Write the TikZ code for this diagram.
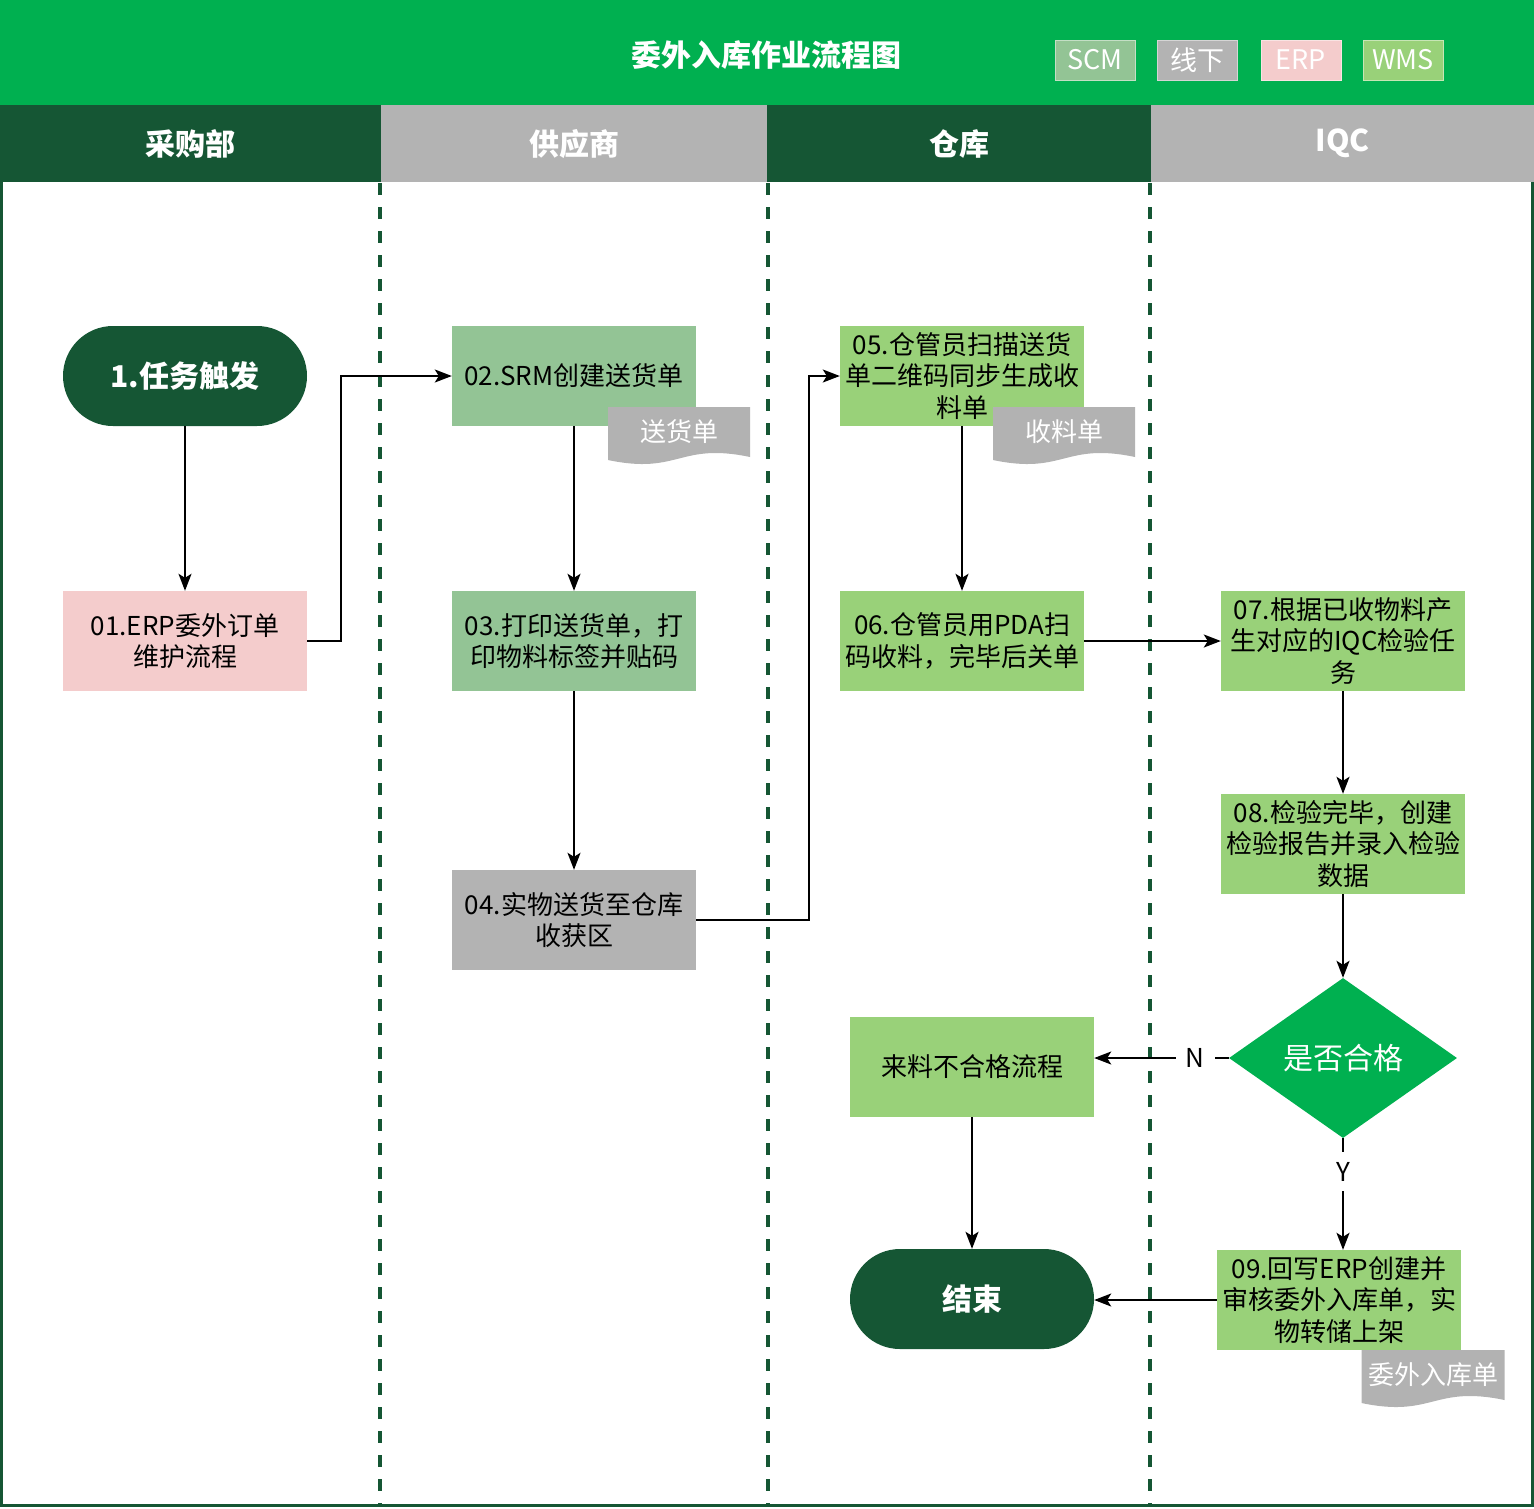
\documentclass[tikz,border=0pt]{standalone}
\usepackage{fontspec}
\setmainfont{Noto Sans CJK SC}
\usetikzlibrary{arrows.meta, positioning, shapes.geometric, calc}

\definecolor{bannergreen}{RGB}{0,176,80}
\definecolor{darkgreen}{RGB}{21,86,52}
\definecolor{lanegray}{RGB}{179,179,179}
\definecolor{scmgreen}{RGB}{147,196,149}
\definecolor{wmsgreen}{RGB}{153,209,121}
\definecolor{erppink}{RGB}{244,204,204}
\definecolor{docgray}{RGB}{178,178,178}

\begin{document}
\begin{tikzpicture}[
    x=1pt, y=-1pt,
    >={Stealth[length=17pt, width=13pt, inset=4pt]},
    box/.style={minimum width=244pt, minimum height=100pt, inner sep=0pt,
                align=center, font=\fontsize{26}{31.5}\selectfont},
    stadium/.style={box, fill=darkgreen, rounded corners=50pt, text=white,
                    font=\fontsize{30}{34}\selectfont\bfseries},
    lanehead/.style={minimum height=77pt, inner sep=0pt, anchor=north west,
                     text=white, font=\fontsize{30}{34}\selectfont\bfseries},
    legendbox/.style={minimum width=80pt, minimum height=40pt, inner sep=0pt,
                      text=white, font=\fontsize{27}{30}\selectfont},
    doctext/.style={text=white, font=\fontsize{26}{30}\selectfont},
    lab/.style={fill=white, inner sep=10pt, font=\fontsize{26}{30}\selectfont},
    flow/.style={->, line width=1.8pt},
    lanesep/.style={darkgreen, line width=3.5pt, dash pattern=on 12pt off 12pt}
  ]
  \useasboundingbox (0,0) rectangle (1534,1508);

  % Banner
  \fill[bannergreen] (0,0) rectangle (1534,105);
  \node[text=white, font=\fontsize{30}{34}\selectfont\bfseries] (title)
    at (766,55) {委外入库作业流程图};

  % Legend
  \foreach \x/\c/\t [count=\i] in {
    1095/scmgreen/SCM,
    1197/lanegray/线下,
    1301/erppink/ERP,
    1403/wmsgreen/WMS} {
    \node[legendbox, fill=\c, draw=\c!55!white, line width=1pt] (lg\i)
      at (\x,60) {\t};
  }

  % Lane headers
  \foreach \x/\w/\c/\t [count=\i] in {
    0/381/darkgreen/采购部,
    381/386/lanegray/供应商,
    767/384/darkgreen/仓库,
    1151/383/lanegray/IQC} {
    \node[lanehead, fill=\c, minimum width=\w pt] (h\i) at (\x,105) {\t};
  }

  % Lane separators and frame
  \foreach \x in {380, 768, 1150}
    \draw[lanesep] (\x,183) -- (\x,1506);
  \draw[darkgreen, line width=3pt] (1.5,182) -- (1.5,1505.5)
    -- (1532.5,1505.5) -- (1532.5,182);

  % Steps
  \node[stadium] (start) at (185,376) {1.任务触发};
  \node[box, fill=erppink] (n01) at (185,641) {01.ERP委外订单\\维护流程};
  \node[box, fill=scmgreen] (n02) at (574,376) {02.SRM创建送货单};
  \node[box, fill=scmgreen] (n03) at (574,641)
    {03.打印送货单，打\\印物料标签并贴码};
  \node[box, fill=lanegray] (n04) at (574,920) {04.实物送货至仓库\\收获区};
  \node[box, fill=wmsgreen] (n05) at (962,376)
    {05.仓管员扫描送货\\单二维码同步生成收\\料单};
  \node[box, fill=wmsgreen] (n06) at (962,641)
    {06.仓管员用PDA扫\\码收料，完毕后关单};
  \node[box, fill=wmsgreen] (n07) at (1343,641)
    {07.根据已收物料产\\生对应的IQC检验任\\务};
  \node[box, fill=wmsgreen] (n08) at (1343,844)
    {08.检验完毕，创建\\检验报告并录入检验\\数据};
  \node[diamond, fill=bannergreen, minimum width=228pt, minimum height=160pt,
        inner sep=0pt, aspect=1.425, text=white,
        font=\fontsize{30}{34}\selectfont] (dec) at (1343,1058) {是否合格};
  \node[box, fill=wmsgreen] (nfail) at (972,1067) {来料不合格流程};
  \node[stadium] (finish) at (972,1299) {结束};
  \node[box, fill=wmsgreen] (n09) at (1339,1300)
    {09.回写ERP创建并\\审核委外入库单，实\\物转储上架};

  % Documents
  \foreach \nm/\cx/\cy/\w/\t in {
    d02/679/407/142/送货单,
    d05/1064/407/142/收料单,
    d09/1433/1350/143/委外入库单} {
    \fill[docgray] (\cx-\w/2,\cy) -- (\cx+\w/2,\cy) -- (\cx+\w/2,\cy+50)
      .. controls +(-0.5*\w,-15) and +(0.5*\w,15) .. (\cx-\w/2,\cy+53)
      -- cycle;
    \node[doctext] (\nm) at (\cx,\cy+25) {\t};
  }

  % Connectors
  \draw[flow] (start) -- (n01);
  \draw[flow] (n01.east) -- ++(34,0) |- (n02.west);
  \draw[flow] (n02) -- (n03);
  \draw[flow] (n03) -- (n04);
  \draw[flow] (n04.east) -- ++(113,0) |- (n05.west);
  \draw[flow] (n05) -- (n06);
  \draw[flow] (n06) -- (n07);
  \draw[flow] (n07) -- (n08);
  \draw[flow] (n08) -- (dec);
  \draw[flow] (dec.west) -- node[lab, pos=0.25] {N} (dec.west -| nfail.east);
  \draw[flow] (dec.south) -- node[lab, pos=0.3] {Y} (dec.south |- n09.north);
  \draw[flow] (nfail) -- (finish);
  \draw[flow] (n09.west) -- (n09.west -| finish.east);
\end{tikzpicture}
\end{document}
